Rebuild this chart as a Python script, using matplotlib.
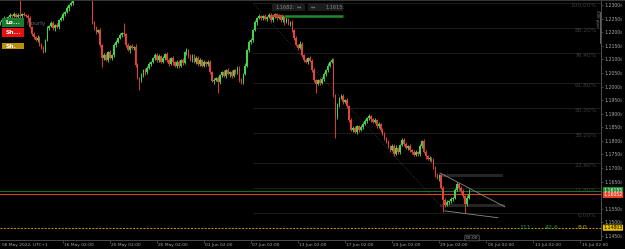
import matplotlib
matplotlib.use('Agg')
import matplotlib.pyplot as plt
from matplotlib.patches import Rectangle

# 4H candles, opens follow the previous close
first_open = 1.2230
closes = [
    1.2237, 1.2245, 1.2252, 1.2241, 1.2256, 1.2263, 1.2259, 1.2267, 1.2256, 1.2263,
    1.2259, 1.2267, 1.2263, 1.2261, 1.2252, 1.2219, 1.2193, 1.2182, 1.2171, 1.2179,
    1.2157, 1.2142, 1.2134, 1.2171, 1.2215, 1.2223, 1.2234, 1.2215, 1.2226, 1.2219,
    1.2245, 1.2252, 1.2267, 1.2274, 1.2289, 1.2300, 1.2307, 1.2326, 1.2340, 1.2355,
    1.2348, 1.2362, 1.2351, 1.2340, 1.2348, 1.2333, 1.2326, 1.2237, 1.2215, 1.2201,
    1.2208, 1.2153, 1.2105, 1.2116, 1.2098, 1.2127, 1.2105, 1.2116, 1.2153, 1.2164,
    1.2179, 1.2190, 1.2197, 1.2193, 1.2153, 1.2134, 1.2149, 1.2142, 1.2146, 1.2079,
    1.2031, 1.2024, 1.2042, 1.2061, 1.2053, 1.2068, 1.2083, 1.2090, 1.2105, 1.2116,
    1.2098, 1.2112, 1.2090, 1.2105, 1.2120, 1.2098, 1.2083, 1.2105, 1.2090, 1.2076,
    1.2090, 1.2076, 1.2098, 1.2087, 1.2127, 1.2134, 1.2112, 1.2098, 1.2116, 1.2090,
    1.2105, 1.2083, 1.2098, 1.2076, 1.2090, 1.2083, 1.2090, 1.2053, 1.2020, 1.2024,
    1.2031, 1.2017, 1.2042, 1.2053, 1.2039, 1.2061, 1.2046, 1.2053, 1.2039, 1.2061,
    1.2053, 1.2068, 1.2024, 1.2017, 1.2046, 1.2076, 1.2134, 1.2164, 1.2171, 1.2208,
    1.2237, 1.2252, 1.2259, 1.2252, 1.2259, 1.2248, 1.2256, 1.2263, 1.2245, 1.2256,
    1.2267, 1.2252, 1.2259, 1.2245, 1.2256, 1.2237, 1.2248, 1.2230, 1.2237, 1.2208,
    1.2179, 1.2153, 1.2142, 1.2157, 1.2116, 1.2098, 1.2090, 1.2105, 1.2094, 1.2061,
    1.2024, 1.2009, 1.2024, 1.2013, 1.2028, 1.2046, 1.2061, 1.2076, 1.2090, 1.2098,
    1.1969, 1.1888, 1.1932, 1.1958, 1.1965, 1.1943, 1.1950, 1.1928, 1.1877, 1.1840,
    1.1847, 1.1833, 1.1855, 1.1840, 1.1851, 1.1862, 1.1873, 1.1884, 1.1891, 1.1880,
    1.1869, 1.1877, 1.1855, 1.1862, 1.1840, 1.1825, 1.1811, 1.1796, 1.1781, 1.1766,
    1.1781, 1.1752, 1.1774, 1.1759, 1.1785, 1.1803, 1.1788, 1.1774, 1.1781, 1.1766,
    1.1759, 1.1748, 1.1759, 1.1752, 1.1781, 1.1799, 1.1759, 1.1744, 1.1733, 1.1737,
    1.1730, 1.1700, 1.1674, 1.1663, 1.1674, 1.1627, 1.1582, 1.1564, 1.1575, 1.1579,
    1.1586, 1.1590, 1.1619, 1.1641, 1.1627, 1.1615, 1.1597, 1.1568, 1.1590, 1.1605,
]
# wick lengths in pips
upper_wick = [
    6, 4, 8, 5, 3, 7, 5, 9, 4, 6, 55, 5, 7, 4, 6, 8, 5, 7, 4, 9,
    6, 5, 8, 4, 7, 5, 9, 6, 4, 8, 5, 7, 6, 4, 9, 5, 8, 6, 7, 4,
    5, 8, 6, 9, 4, 7, 5, 30, 6, 8, 4, 7, 5, 9, 6, 4, 8, 5, 7, 6,
    4, 9, 5, 37, 6, 8, 4, 7, 5, 9, 6, 4, 8, 5, 7, 6, 9, 4, 5, 8,
    6, 7, 4, 9, 5, 6, 8, 4, 7, 5, 9, 6, 4, 8, 5, 7, 6, 9, 4, 5,
    8, 6, 7, 4, 9, 5, 6, 8, 4, 7, 5, 9, 6, 4, 8, 5, 7, 6, 9, 4,
    5, 8, 6, 7, 4, 9, 5, 6, 8, 4, 7, 5, 9, 6, 4, 8, 5, 7, 6, 9,
    4, 5, 8, 6, 7, 4, 9, 5, 6, 8, 4, 7, 5, 9, 6, 4, 8, 5, 7, 6,
    9, 4, 5, 8, 6, 7, 4, 9, 5, 6, 8, 4, 7, 5, 9, 6, 4, 8, 5, 7,
    6, 9, 4, 5, 8, 6, 7, 4, 9, 5, 6, 8, 4, 7, 5, 9, 6, 4, 8, 5,
    7, 6, 9, 4, 5, 8, 6, 7, 4, 9, 5, 6, 8, 4, 7, 5, 9, 6, 4, 8,
    5, 7, 6, 9, 4, 5, 8, 6, 7, 4, 8, 5, 7, 7, 5, 8, 6, 4, 9, 18,
]
lower_wick = [
    5, 7, 4, 8, 6, 5, 9, 4, 7, 6, 5, 8, 4, 6, 9, 5, 7, 6, 4, 8,
    6, 5, 11, 7, 5, 8, 4, 6, 9, 5, 7, 4, 6, 8, 5, 9, 4, 7, 6, 5,
    8, 4, 7, 6, 9, 5, 4, 8, 6, 7, 5, 9, 33, 6, 4, 8, 5, 7, 6, 9,
    4, 5, 8, 6, 7, 4, 9, 5, 6, 8, 4, 37, 7, 5, 9, 6, 4, 8, 5, 7,
    6, 9, 4, 5, 8, 6, 7, 4, 9, 5, 6, 8, 4, 7, 5, 9, 6, 4, 8, 5,
    7, 6, 9, 4, 5, 8, 6, 7, 4, 9, 5, 41, 6, 8, 4, 7, 5, 9, 6, 4,
    8, 5, 7, 6, 9, 4, 5, 8, 6, 7, 4, 9, 5, 6, 8, 4, 7, 5, 9, 6,
    4, 8, 5, 7, 6, 9, 4, 5, 8, 6, 7, 4, 9, 5, 6, 8, 4, 7, 5, 9,
    6, 33, 4, 8, 5, 7, 6, 9, 4, 5, 8, 77, 6, 7, 4, 9, 5, 6, 8, 4,
    7, 5, 9, 6, 4, 8, 5, 7, 6, 9, 4, 5, 8, 6, 7, 4, 9, 5, 6, 8,
    4, 7, 5, 9, 6, 4, 8, 5, 7, 6, 9, 4, 5, 8, 6, 7, 4, 9, 5, 6,
    8, 4, 7, 5, 9, 6, 44, 8, 5, 7, 6, 9, 4, 5, 8, 6, 7, 33, 6, 5,
]

price_ticks = [1.2300, 1.2250, 1.2200, 1.2150, 1.2100, 1.2050, 1.2000, 1.1950, 1.1900,
               1.1850, 1.1800, 1.1750, 1.1700, 1.1650, 1.1550, 1.1500, 1.1450]
date_pos = [32, 56, 80, 104, 128, 152, 176, 200, 224, 248, 272, 296]
date_labels = ['16 May 02:00', '20 May 02:00', '26 May 02:00', '01 Jun 02:00', '07 Jun 02:00',
               '13 Jun 02:00', '17 Jun 02:00', '23 Jun 02:00', '29 Jun 02:00', '05 Jul 02:00',
               '11 Jul 02:00', '15 Jul 02:00']

fib_pct = [100.0, 88.2, 76.4, 61.8, 50.0, 38.2, 23.6, 11.8, 0.0]
fib_high, fib_low = 1.2306, 1.1535
fib_x0, fib_x1 = 129, 228

bid, ask, order = 1.1605, 1.1616, 1.14803
wedge_top = ([224.3, 257.5], [1.1682, 1.1557])
wedge_bot = ([226.9, 253.9], [1.1542, 1.1517])

UP, DOWN = '#46d34c', '#e8413a'

fig = plt.figure(figsize=(6.25, 2.49), dpi=100, facecolor='black')
ax = fig.add_axes([0, 9 / 249, 601 / 625, 239 / 249], facecolor='black')
ax.set_xlim(-0.15, 306.5)
ax.set_ylim(1.1435, 1.2315)

opens = [first_open] + closes[:-1]
for i, (o, c) in enumerate(zip(opens, closes)):
    col = UP if c >= o else DOWN
    hi = max(o, c) + upper_wick[i] * 0.0001
    lo = min(o, c) - lower_wick[i] * 0.0001
    ax.vlines(i, lo, hi, color=col, lw=0.65, zorder=3)
    ax.bar(i, max(abs(c - o), 0.00015), bottom=min(o, c), width=0.82, color=col,
           linewidth=0, zorder=3)

# fibonacci retracement
for p in fib_pct:
    lvl = fib_low + (fib_high - fib_low) * p / 100
    ax.hlines(lvl, fib_x0, 306.5, color='#1c1c1c', lw=0.7, zorder=1)
    ax.text(597 / 601, lvl, f'{p:.2f}%', transform=ax.get_yaxis_transform(), ha='right',
            va='top', fontsize=4.2, color='#3c3c3c', zorder=2)
ax.plot([fib_x0, fib_x1], [fib_high, fib_low], color='#3a3a3a', lw=0.6, ls=(0, (1, 1.5)), zorder=2)

# wedge + zones
ax.add_patch(Rectangle((224.3, 1.1667), 32.2, 0.0011, color='#262626', lw=0, zorder=1))
ax.add_patch(Rectangle((224.3, 1.1557), 33.2, 0.0011, color='#262626', lw=0, zorder=1))
ax.plot(*wedge_top, color='#8a8a8a', lw=0.6, zorder=4)
ax.plot(*wedge_bot, color='#8a8a8a', lw=0.6, zorder=4)

# price lines
ax.axhline(ask, color='#1d6e2b', lw=0.8, zorder=2)
ax.axhline(bid, color='#d9451e', lw=0.8, zorder=2)
ax.axhline(order, color='#c9a000', lw=0.7, ls=(0, (2, 1.5)), zorder=2)
for xf, t, c in [(525, '111', '#2f8f3a'), (552, '42.6', '#2f8f3a'), (582, '8.0', '#c9a000')]:
    ax.text(xf / 601, order, t, transform=ax.get_yaxis_transform(), ha='center',
            va='center', fontsize=4.5, color=c, zorder=5)

# top trade bar
ax.hlines(1.2260, 138.5, 144.5, color='#c8441a', lw=1.6, zorder=4)
ax.hlines(1.2260, 145, 175, color='#1e8a2e', lw=1.8, zorder=4)

# axes styling
for s in ['top', 'left']:
    ax.spines[s].set_visible(False)
ax.spines['right'].set_color('#5a5a5a')
ax.spines['bottom'].set_color('#5a5a5a')
ax.spines['right'].set_linewidth(0.6)
ax.spines['bottom'].set_linewidth(0.6)
ax.yaxis.tick_right()
ax.set_yticks(price_ticks)
ax.set_yticklabels([f'{p:.4f}\u2080' for p in price_ticks])
ax.tick_params(axis='y', colors='#5a5a5a', labelcolor='#a8a8a8', labelsize=3.3,
               length=1.5, width=0.5, pad=1)
ax.set_xticks(date_pos)
ax.set_xticklabels([])
ax.tick_params(axis='x', colors='#5a5a5a', length=2, width=0.5)
xf = ax.get_xaxis_transform()
for p, lab in zip(date_pos, date_labels):
    ax.text(p + 0.6, -0.012, lab, transform=xf, ha='left', va='top', fontsize=3.2,
            color='#a8a8a8', clip_on=False)
ax.text(0.003, -0.012, '06 May 2022, UTC+1', transform=ax.transAxes, ha='left', va='top',
        fontsize=3.2, color='#a8a8a8')

# right price tags
def tag(price, txt, bg, fg, dy=0.0):
    ax.text(1.004, price + dy, txt, transform=ax.get_yaxis_transform(), ha='left', va='center',
            fontsize=3.3, color=fg, clip_on=False, zorder=6,
            bbox=dict(boxstyle='round,pad=0.12', fc=bg, ec='none'))

tag(ask, '1.16155', '#1e8a2e', 'white', 0.0003)
tag(bid, '1.16052', '#e8452a', 'white', -0.0004)
tag(order, '1.14803', '#e6c000', 'black')

# UI overlays (pixel positions)
def fx(px):
    return px / 625

def fy(py):
    return 1 - py / 249

fig.add_artist(plt.Line2D([0, 1], [fy(0.5), fy(0.5)], color='#444444', lw=1.2))
for y0, txt, bg in [(18, 'Lo...', '#1c7a2c'), (28, 'Sh...', '#e61010'), (43, 'Sh.', '#b8900a')]:
    h = 9 if y0 < 40 else 6.5
    fig.add_artist(Rectangle((fx(2), fy(y0 + h)), fx(22), h / 249, color=bg, lw=0))
    fig.text(fx(6), fy(y0 + h / 2), txt, fontsize=4.3, color='white', weight='bold', va='center')
fig.text(fx(26), fy(23), 'Hourly', fontsize=4.2, color='#6a6a6a', va='center')

fig.add_artist(Rectangle((fx(272), fy(11)), fx(33), 7 / 249, color='#1c1c1c', lw=0))
fig.add_artist(Rectangle((fx(308), fy(11)), fx(35), 7 / 249, color='#1c1c1c', lw=0))
fig.text(fx(275), fy(7.5), '1.1682:', fontsize=3.6, color='#8a8a8a', va='center')
fig.text(fx(297), fy(7.5), '\u2194', fontsize=3.6, color='#8a8a8a', va='center')
fig.text(fx(311), fy(7.5), '\u2194', fontsize=3.6, color='#8a8a8a', va='center')
fig.text(fx(325), fy(7.5), '1.1615:', fontsize=3.6, color='#8a8a8a', va='center')

fig.text(fx(597), fy(18.5), '200 pips', fontsize=2.8, color='#8a8a8a', rotation=270,
         ha='center', va='center')
fig.add_artist(plt.Line2D([fx(599.5), fx(599.5)], [fy(12), fy(43)], color='#8a8a8a', lw=0.5))

fig.text(fx(472), fy(238), '00:00', fontsize=3.2, color='#a8a8a8', ha='center', va='center',
         bbox=dict(boxstyle='round,pad=0.2', fc='black', ec='#8a8a8a', lw=0.4))

fig.savefig('out.png', dpi=100, facecolor='black')
